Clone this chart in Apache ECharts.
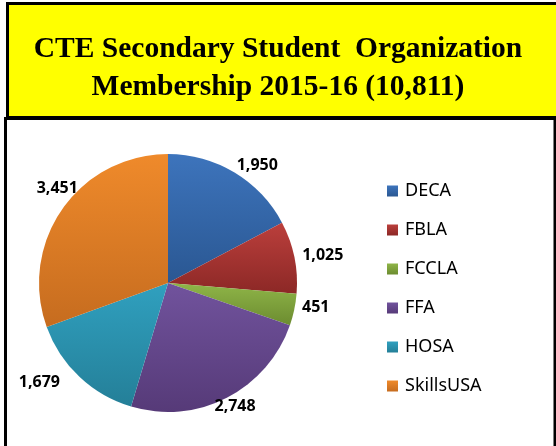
<!DOCTYPE html>
<html>
<head>
<meta charset="utf-8">
<script src="https://cdn.jsdelivr.net/npm/echarts@6/dist/echarts.min.js"></script>
<style>
  html, body { margin: 0; padding: 0; background: #fff; }
  #chart { width: 556px; height: 446px; }
</style>
</head>
<body>
<div id="chart"></div>
<script>
var titleLines = ['CTE Secondary Student  Organization', 'Membership 2015-16 (10,811)'];
var orgNames = ['DECA', 'FBLA', 'FCCLA', 'FFA', 'HOSA', 'SkillsUSA'];
var members = [1950, 1025, 451, 2748, 1679, 3451];
var topColors = ['#3d74bc', '#bb3f3c', '#8fb548', '#71539d', '#30a0bf', '#ef8a2b'];
var bottomColors = ['#2a5792', '#8c2826', '#6c8c30', '#563a78', '#247f98', '#c66c1f'];
// small nudges so the value labels sit where Excel put them
var labelNudge = [[-2, 0], [0, 0], [0, -4], [-16, 2], [-14, 0], [22, -16]];

var chart = echarts.init(document.getElementById('chart'));

var pieData = [];
for (var i = 0; i < orgNames.length; i++) {
  pieData.push({
    name: orgNames[i],
    value: members[i],
    label: { offset: labelNudge[i] },
    itemStyle: {
      color: new echarts.graphic.LinearGradient(0, 0, 0, 1, [
        { offset: 0, color: topColors[i] },
        { offset: 1, color: bottomColors[i] }
      ])
    }
  });
}

var option = {
  animation: false,
  graphic: [
    {
      type: 'rect',
      z: -10,
      shape: { x: 7.5, y: 3.5, width: 560, height: 114 },
      style: { fill: '#ffff00', stroke: '#000', lineWidth: 3 }
    },
    {
      type: 'rect',
      z: -9,
      shape: { x: 5.5, y: 118.5, width: 549.5, height: 340 },
      style: { fill: '#fff', stroke: '#000', lineWidth: 3 }
    }
  ],
  title: {
    text: titleLines.join('\n'),
    left: 'center',
    top: 25,
    textStyle: {
      fontFamily: 'Liberation Serif',
      fontWeight: 'bold',
      fontSize: 29.5,
      lineHeight: 38,
      color: '#000'
    }
  },
  legend: {
    orient: 'vertical',
    left: 387,
    top: 181,
    padding: 0,
    itemWidth: 11,
    itemHeight: 11,
    itemGap: 19,
    icon: 'rect',
    textStyle: {
      fontFamily: 'Noto Sans',
      fontSize: 18,
      lineHeight: 20,
      padding: [0, 0, 0, 2],
      color: '#000'
    },
    data: orgNames
  },
  series: [{
    type: 'pie',
    center: [168, 283],
    radius: 129,
    startAngle: 90,
    clockwise: true,
    avoidLabelOverlap: false,
    label: {
      show: true,
      position: 'outside',
      fontFamily: 'Noto Sans',
      fontWeight: 'bold',
      fontSize: 16,
      color: '#000',
      distanceToLabelLine: 0,
      formatter: function (p) {
        return p.value.toLocaleString('en-US');
      }
    },
    labelLine: { show: false, length: 8, length2: 0 },
    emphasis: { disabled: true },
    data: pieData
  }]
};

chart.setOption(option);
</script>
</body>
</html>
